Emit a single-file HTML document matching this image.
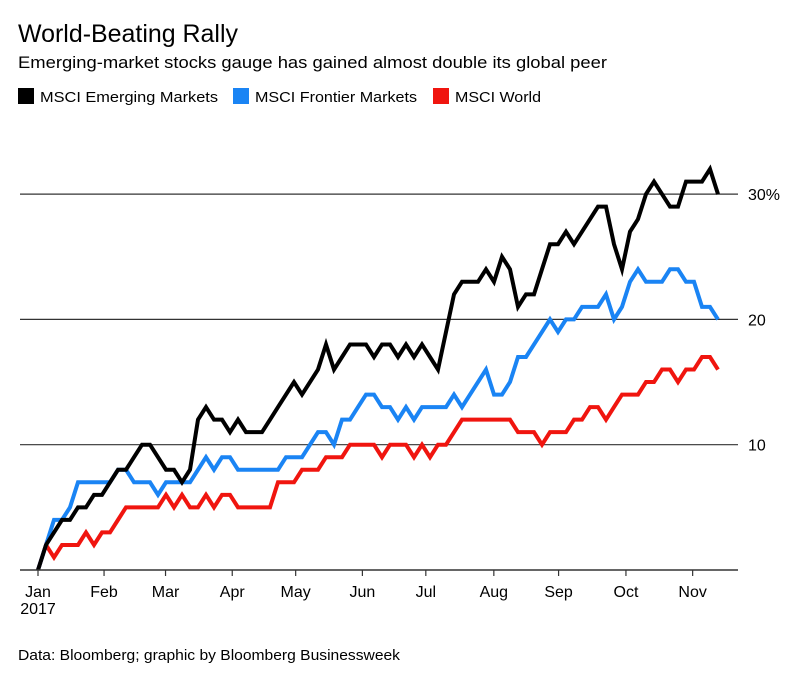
<!DOCTYPE html>
<html><head><meta charset="utf-8"><style>
body{margin:0;width:800px;height:677px;background:#fff;font-family:"Liberation Sans",sans-serif;color:#000;overflow:hidden}
svg{position:absolute;left:0;top:0}
</style></head><body>
<svg width="800" height="677">
<text x="18" y="42" font-size="25" textLength="220" lengthAdjust="spacingAndGlyphs">World-Beating Rally</text>
<text x="18" y="68" font-size="17" textLength="589" lengthAdjust="spacingAndGlyphs">Emerging-market stocks gauge has gained almost double its global peer</text>
<g font-size="15">
<rect x="18" y="88" width="16" height="16" fill="#000"/>
<text x="40" y="102" textLength="178" lengthAdjust="spacingAndGlyphs">MSCI Emerging Markets</text>
<rect x="233" y="88" width="16" height="16" fill="#1a84f4"/>
<text x="255" y="102" textLength="162" lengthAdjust="spacingAndGlyphs">MSCI Frontier Markets</text>
<rect x="433" y="88" width="16" height="16" fill="#f0150f"/>
<text x="455" y="102" textLength="86" lengthAdjust="spacingAndGlyphs">MSCI World</text>
</g>
<g id="grid"></g><g id="series"></g><g id="xaxis"></g>
<text x="18" y="660" font-size="15" textLength="382" lengthAdjust="spacingAndGlyphs">Data: Bloomberg; graphic by Bloomberg Businessweek</text>
</svg>
<script>
const em=[0,2,3,4,4,5,5,6,6,7,8,8,9,10,10,9,8,8,7,8,12,13,12,12,11,12,11,11,11,12,13,14,15,14,15,16,18,16,17,18,18,18,17,18,18,17,18,17,18,17,16,19,22,23,23,23,24,23,25,24,21,22,22,24,26,26,27,26,27,28,29,29,26,24,27,28,30,31,30,29,29,31,31,31,32,30];
const fm=[0,2,4,4,5,7,7,7,7,7,8,8,7,7,7,6,7,7,7,7,8,9,8,9,9,8,8,8,8,8,8,9,9,9,10,11,11,10,12,12,13,14,14,13,13,12,13,12,13,13,13,13,14,13,14,15,16,14,14,15,17,17,18,19,20,19,20,20,21,21,21,22,20,21,23,24,23,23,23,24,24,23,23,21,21,20];
const world=[0,2,1,2,2,2,3,2,3,3,4,5,5,5,5,5,6,5,6,5,5,6,5,6,6,5,5,5,5,5,7,7,7,8,8,8,9,9,9,10,10,10,10,9,10,10,10,9,10,9,10,10,11,12,12,12,12,12,12,12,11,11,11,10,11,11,11,12,12,13,13,12,13,14,14,14,15,15,16,16,15,16,16,17,17,16];
const yTicks=[10,20,30];
const yLabels=["10","20","30%"];
const months=["Jan","Feb","Mar","Apr","May","Jun","Jul","Aug","Sep","Oct","Nov"];
const monthPos=[0,1.01,1.95,2.97,3.94,4.96,5.93,6.97,7.96,8.99,10.01];
const NS="http://www.w3.org/2000/svg";
const y=v=>570-v*12.53;
const xi=i=>38+i*8;
const xm=m=>38+m*65.4;
function mk(t,a,p){const e=document.createElementNS(NS,t);for(const k in a)e.setAttribute(k,a[k]);p.appendChild(e);return e;}
const grid=document.getElementById('grid');
yTicks.forEach((v,i)=>{
 const l=mk('line',{x1:20,x2:738,y1:y(v),y2:y(v),stroke:'#333','stroke-width':1.2},grid);
 
 
 const t=mk('text',{x:748,y:y(v)+6,'font-size':16},grid);t.textContent=yLabels[i];
 
 
});
const xa=document.getElementById('xaxis');
const base=mk('line',{x1:20,x2:738,y1:570,y2:570,stroke:'#333','stroke-width':1.5},xa);


months.forEach((m,i)=>{
 const x=xm(monthPos[i]);
 const tk=mk('line',{x1:x,x2:x,y1:570,y2:576,stroke:'#333','stroke-width':1.2},xa);
 
 
 const t=mk('text',{x:x,y:597,'font-size':16,'text-anchor':'middle'},xa);t.textContent=m;
 
 
});
const yr=mk('text',{x:38,y:614,'font-size':16,'text-anchor':'middle'},xa);yr.textContent='2017';


const sg=document.getElementById('series');
[[world,'#f0150f','world'],[fm,'#1a84f4','frontier'],[em,'#000','emerging']].forEach(([d,c,n])=>{
 const p=mk('polyline',{points:d.map((v,i)=>xi(i)+','+y(v)).join(' '),fill:'none',stroke:c,'stroke-width':4,'stroke-linejoin':'miter'},sg);
 
 
});
</script>
</body></html>
